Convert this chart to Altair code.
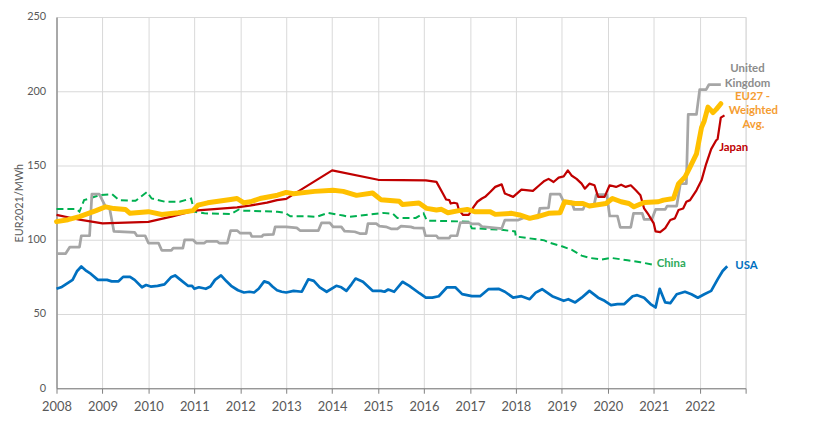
import altair as alt
import pandas as pd

# ---------------- data ----------------
usa_t = [2008.0, 2008.1, 2008.25, 2008.35, 2008.45, 2008.54, 2008.65, 2008.75, 2008.9, 2009.0,
         2009.1, 2009.2, 2009.35, 2009.45, 2009.6, 2009.7, 2009.86, 2009.95, 2010.05, 2010.2,
         2010.35, 2010.5, 2010.58, 2010.7, 2010.86, 2010.95, 2011.0, 2011.1, 2011.25, 2011.35,
         2011.45, 2011.58, 2011.7, 2011.8, 2011.95, 2012.08, 2012.2, 2012.3, 2012.4, 2012.52,
         2012.62, 2012.7, 2012.8, 2012.9, 2013.0, 2013.16, 2013.34, 2013.48, 2013.6, 2013.73,
         2013.88, 2014.09, 2014.2, 2014.31, 2014.42, 2014.51, 2014.67, 2014.88, 2015.06, 2015.14,
         2015.22, 2015.35, 2015.53, 2015.68, 2015.9, 2016.04, 2016.18, 2016.32, 2016.5, 2016.68,
         2016.83, 2017.04, 2017.22, 2017.4, 2017.62, 2017.76, 2017.94, 2018.12, 2018.3, 2018.43,
         2018.57, 2018.79, 2019.04, 2019.14, 2019.29, 2019.43, 2019.6, 2019.79, 2019.93, 2020.07,
         2020.21, 2020.36, 2020.54, 2020.64, 2020.79, 2020.93, 2021.04, 2021.13, 2021.25, 2021.36,
         2021.5, 2021.68, 2021.82, 2021.96, 2022.1, 2022.25, 2022.39, 2022.5, 2022.6]
usa_v = [67, 68, 71, 73, 79, 82, 79, 77, 73, 73,
         73, 72, 72, 75, 75, 73, 68, 69.5, 68.5, 69,
         70, 75, 76, 73, 69, 69, 67, 68, 67, 68.5,
         73, 76, 72, 69, 66, 64.5, 65, 64.5, 67, 72,
         71, 68.5, 66, 65, 64.5, 65.6, 65, 73.4, 72.3, 67.9,
         65, 69, 68, 65.6, 70, 73.9, 71.7, 65.6, 65.6, 65,
         66.5, 65, 71.7, 69, 64, 61, 61, 62, 68, 68,
         63.4, 62, 62, 66.7, 67, 65, 61, 62, 60, 64.4,
         66.7, 62, 58.9, 60, 57.8, 61, 65.6, 61, 58.9, 56,
         56.7, 56.7, 62, 62.7, 61, 56.7, 54.4, 67, 57.8, 57.3,
         63.3, 65, 63.3, 61, 63.3, 65.6, 73.3, 79, 82.2]

japan_t = [2008.0, 2008.5, 2009.0, 2010.0, 2010.5, 2011.0, 2011.93, 2012.2, 2012.58, 2012.8,
           2013.0, 2014.0, 2015.0, 2016.04, 2016.27, 2016.41, 2016.48, 2016.55, 2016.58, 2016.65,
           2016.72, 2016.76, 2016.85, 2016.97, 2017.08, 2017.16, 2017.26, 2017.33, 2017.44, 2017.55,
           2017.69, 2017.76, 2017.94, 2018.12, 2018.37, 2018.51, 2018.62, 2018.71, 2018.82, 2018.93,
           2019.04, 2019.13, 2019.21, 2019.32, 2019.43, 2019.5, 2019.6, 2019.71, 2019.79, 2019.93,
           2020.04, 2020.18, 2020.29, 2020.39, 2020.5, 2020.61, 2020.71, 2020.79, 2020.89, 2021.0,
           2021.04, 2021.14, 2021.25, 2021.36, 2021.46, 2021.54, 2021.64, 2021.71, 2021.79, 2021.93,
           2022.04, 2022.14, 2022.25, 2022.36, 2022.39, 2022.46, 2022.54]
japan_v = [116.7, 113.5, 111, 112, 115.6, 119.6, 121.8, 123, 125, 126.7,
           127.5, 146.7, 140.4, 140, 139, 131.1, 127.1, 126.7, 124.4, 124.9,
           124.4, 120, 116.7, 116.7, 122.2, 125.6, 127.8, 128.9, 132.2, 135.6,
           137.3, 131.1, 128.9, 133.8, 132.9, 136.7, 139.6, 141, 138.9, 141.8,
           142.7, 146.7, 143.3, 141, 137.8, 134.4, 137.8, 136.7, 128.9, 128.9,
           136.7, 135.6, 137.1, 135.6, 136.7, 133.3, 130, 121.1, 116.7, 111,
           105.6, 105.1, 107.8, 113.3, 114.4, 120, 121.1, 125.6, 126.7, 133.3,
           140, 151, 161, 167, 167.8, 182.2, 183.8]

eu_t = [2008.0, 2008.25, 2008.5, 2008.86, 2009.07, 2009.25, 2009.5, 2009.6, 2010.0, 2010.29,
        2010.65, 2010.97, 2011.08, 2011.29, 2011.79, 2011.93, 2012.08, 2012.22, 2012.43, 2012.81,
        2013.0, 2013.16, 2013.62, 2014.02, 2014.24, 2014.53, 2014.88, 2015.06, 2015.46, 2015.53,
        2015.89, 2016.06, 2016.27, 2016.38, 2016.52, 2016.76, 2016.94, 2017.1, 2017.44, 2017.55,
        2017.91, 2018.08, 2018.3, 2018.51, 2018.71, 2018.96, 2019.06, 2019.29, 2019.46, 2019.6,
        2019.96, 2020.1, 2020.29, 2020.46, 2020.57, 2020.79, 2021.1, 2021.21, 2021.43, 2021.54,
        2021.68, 2021.79, 2021.93, 2022.04, 2022.1, 2022.18, 2022.25, 2022.29, 2022.36, 2022.46]
eu_v = [112.2, 113.5, 115.6, 119.6, 122.2, 121, 120.4, 117.8, 118.9, 117,
        118.2, 119.6, 123.3, 124.9, 127.1, 127.8, 124.9, 125.6, 127.8, 130,
        131.9, 131, 132.6, 133.3, 132.6, 129.9, 131.5, 127, 125.9, 123.7,
        124.8, 121.1, 120, 120.5, 118.2, 119.6, 120.4, 118.9, 118.9, 117.1,
        117.8, 116.7, 114.4, 116, 117.8, 118.2, 125.6, 124.4, 124.4, 122.7,
        124.4, 127.8, 125.6, 124.4, 122.2, 125.1, 125.6, 126.7, 127.8, 137.8,
        142.2, 148.9, 157.8, 175.6, 180, 189.3, 187.1, 185.6, 187.8, 191.6]

uk_t = [2008.0, 2008.2, 2008.29, 2008.5, 2008.54, 2008.72, 2008.77, 2008.93, 2009.07, 2009.15,
        2009.25, 2009.7, 2009.75, 2009.93, 2010.0, 2010.22, 2010.29, 2010.5, 2010.54, 2010.75,
        2010.79, 2010.97, 2011.04, 2011.22, 2011.26, 2011.5, 2011.54, 2011.72, 2011.79, 2011.93,
        2012.0, 2012.22, 2012.25, 2012.47, 2012.5, 2012.72, 2012.76, 2013.0, 2013.23, 2013.3,
        2013.7, 2013.77, 2013.95, 2014.02, 2014.2, 2014.27, 2014.49, 2014.6, 2014.74, 2014.78,
        2014.96, 2015.03, 2015.17, 2015.28, 2015.42, 2015.5, 2015.71, 2015.78, 2015.99, 2016.03,
        2016.27, 2016.31, 2016.55, 2016.58, 2016.72, 2016.79, 2016.97, 2017.04, 2017.19, 2017.26,
        2017.69, 2017.76, 2018.05, 2018.16, 2018.48, 2018.52, 2018.71, 2018.75, 2018.96, 2019.04,
        2019.21, 2019.27, 2019.46, 2019.5, 2019.7, 2019.75, 2019.98, 2020.04, 2020.21, 2020.27,
        2020.5, 2020.56, 2020.75, 2020.79, 2020.96, 2021.04, 2021.25, 2021.29, 2021.5, 2021.58,
        2021.71, 2021.75, 2021.93, 2022.0, 2022.14, 2022.2, 2022.46]
uk_v = [90.7, 90.7, 95.1, 95.1, 102.7, 102.7, 130.7, 130.7, 122.2, 122,
        105.6, 105, 102.7, 102.7, 97.8, 97.8, 92.9, 92.9, 94.4, 94.4,
        100, 100, 97.8, 97.8, 98.9, 98.9, 97.8, 97.8, 106.2, 106.2,
        104.4, 104.4, 102.2, 102.2, 103.3, 103.6, 108.7, 108.7, 108, 106.2,
        106.2, 111.4, 111.4, 108.7, 108.7, 105.8, 105.4, 104.2, 104.2, 110.9,
        110.9, 109.2, 108.7, 107.4, 107.4, 109.2, 108.7, 108, 107.8, 102.7,
        102.7, 101.1, 101.1, 102.7, 102.7, 111.6, 111.6, 110.7, 110.7, 108.9,
        107.5, 113.3, 113.3, 114.7, 114.7, 121.1, 121.5, 130.7, 130.7, 125.6,
        125.6, 120.4, 120.4, 123.3, 123.3, 130.4, 130.4, 116, 116, 108.4,
        108.4, 117.8, 117.8, 113.8, 113.8, 120.4, 120.4, 122.7, 122.7, 137.8,
        137.8, 184.4, 184.4, 201.1, 201.1, 204.4, 204.4]

china_t = [2008.0, 2008.43, 2008.5, 2008.6, 2008.72, 2008.93, 2009.21, 2009.36, 2009.72, 2009.97,
           2010.07, 2010.36, 2010.68, 2010.93, 2011.0, 2011.22, 2011.79, 2011.97, 2012.08, 2012.81,
           2012.98, 2013.09, 2013.45, 2013.66, 2013.91, 2014.24, 2014.38, 2015.1, 2015.32, 2015.42,
           2015.82, 2015.99, 2016.06, 2016.97, 2017.04, 2017.69, 2017.98, 2018.0, 2018.26, 2018.62,
           2018.71, 2019.0, 2019.21, 2019.43, 2019.6, 2019.86, 2020.07, 2020.43, 2020.71, 2020.96]
china_v = [120.7, 120.7, 118.9, 126.7, 127.8, 130, 130.7, 126.7, 126.2, 132.2,
           127.8, 125.6, 125.6, 127.8, 118.9, 117.8, 117.3, 120.4, 119.6, 118.9,
           118.1, 115.8, 115.8, 115.4, 118.1, 116.3, 115.4, 118.1, 117.5, 114.7,
           114.7, 117.8, 112.9, 112.2, 107.8, 106.7, 105.6, 102.2, 101.1, 99.6,
           98.2, 95.6, 93.3, 89.3, 87.8, 86.7, 87.8, 86.2, 84.9, 83.3]

label_text = ["United", "Kingdom", "EU27 -", "Weighted", "Avg.", "Japan", "China", "USA"]
label_t = [2023.04, 2023.04, 2023.15, 2023.17, 2023.17, 2022.74, 2021.38, 2023.02]
label_v = [215, 205, 196, 186.7, 177, 162, 84, 82]
label_color = ["#8C8C8C", "#8C8C8C", "#F59D32", "#F59D32", "#F59D32", "#C00000", "#2EAA5A", "#0070C0"]

year_ticks = list(range(2008, 2024))
value_ticks = [0, 50, 100, 150, 200, 250]

# ---------------- chart ----------------
def frame(t, v):
    return pd.DataFrame({"t": t, "v": v})

x_enc = alt.X(
    "t:Q",
    scale=alt.Scale(domain=[2008, 2023], nice=False, zero=False),
    axis=alt.Axis(
        values=year_ticks, format="d",
        labelExpr="datum.value > 2022 ? '' : datum.label",
        title=None, grid=True, gridColor="#D9D9D9", gridWidth=1,
        domainColor="#808080", domainWidth=1.2, tickColor="#808080", tickSize=5,
        labelFontSize=13, labelColor="#595959", labelPadding=7, labelFont="Lato",
        labelFlush=False, labelOverlap=False,
    ),
)
y_enc = alt.Y(
    "v:Q",
    scale=alt.Scale(domain=[0, 250], nice=False),
    axis=alt.Axis(
        values=value_ticks, title="EUR2021/MWh", titleFontSize=11,
        titleFontWeight="normal", titleColor="#595959", titleFont="Lato",
        titlePadding=2, ticks=False, domainColor="#808080", domainWidth=1.2,
        grid=True, gridColor="#D9D9D9", labelFontSize=11, labelColor="#595959",
        labelPadding=11, labelFont="Lato", labelFlush=False,
    ),
)

china = alt.Chart(frame(china_t, china_v)).mark_line(
    color="#00B050", strokeWidth=2, strokeDash=[7, 4]
).encode(x=x_enc, y=y_enc)
uk = alt.Chart(frame(uk_t, uk_v)).mark_line(
    color="#A6A6A6", strokeWidth=2.75, strokeJoin="round"
).encode(x=x_enc, y=y_enc)
usa = alt.Chart(frame(usa_t, usa_v)).mark_line(
    color="#0070C0", strokeWidth=2.75, strokeJoin="round"
).encode(x=x_enc, y=y_enc)
japan = alt.Chart(frame(japan_t, japan_v)).mark_line(
    color="#C00000", strokeWidth=2.25, strokeJoin="round"
).encode(x=x_enc, y=y_enc)
eu = alt.Chart(frame(eu_t, eu_v)).mark_line(
    color="#FFC000", strokeWidth=5, strokeJoin="round", strokeCap="round"
).encode(x=x_enc, y=y_enc)

labels_df = pd.DataFrame({"text": label_text, "t": label_t, "v": label_v, "color": label_color})
labels = alt.Chart(labels_df).mark_text(
    font="Lato", fontWeight="bold", fontSize=11.5, align="center", baseline="middle"
).encode(
    x=alt.X("t:Q"), y=alt.Y("v:Q"),
    text="text:N", color=alt.Color("color:N", scale=None),
)

chart = alt.layer(china, uk, usa, japan, eu, labels).properties(
    width=696, height=375,
    autosize=alt.AutoSizeParams(type="none"),
    padding={"left": 49, "top": 7, "right": 63, "bottom": 35},
).configure_view(stroke=None).configure(font="Lato", background="white")

chart.save("out.html", embed_options={"renderer": "svg", "actions": False})
